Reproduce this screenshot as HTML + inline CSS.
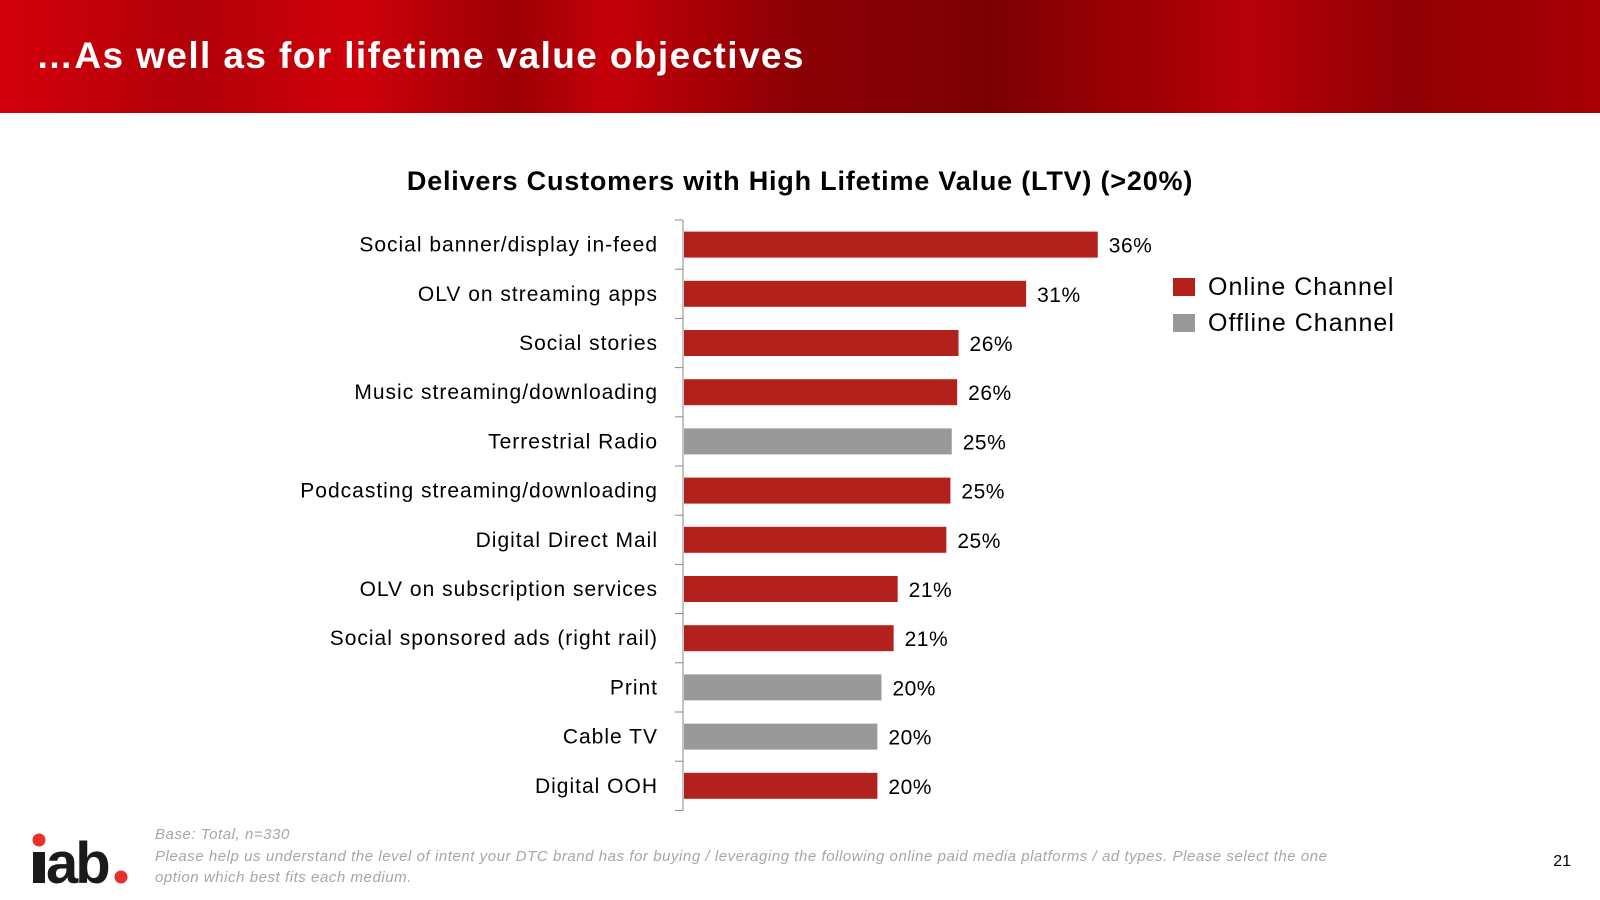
<!DOCTYPE html>
<html><head><meta charset="utf-8"><style>
body{margin:0;width:1600px;height:900px;overflow:hidden;background:#fff;font-family:"Liberation Sans",sans-serif}
#banner{position:absolute;left:0;top:0;width:1600px;height:113px;background:linear-gradient(90deg,#d4000c 0%,#b00008 12%,#d0000a 22%,#9c0006 32%,#c40008 38%,#8a0004 50%,#7c0003 62%,#a00005 72%,#b8000a 78%,#900004 88%,#a80006 100%)}
#title{position:absolute;left:36px;top:35px;color:#fff;font-size:37px;font-weight:bold;letter-spacing:1.4px}
</style></head><body>
<div id="banner"></div>
<div id="title">…As well as for lifetime value objectives</div>
<svg id="chart" width="1600" height="900" style="position:absolute;left:0;top:0">
<text x="800" y="190" text-anchor="middle" font-size="27" font-weight="bold" fill="#000" letter-spacing="0.8">Delivers Customers with High Lifetime Value (LTV) (&gt;20%)</text>
<g id="bars"></g>
<rect x="1173" y="278" width="22" height="18" fill="#b3211d"/>
<text x="1208" y="295" font-size="25" fill="#000" letter-spacing="1">Online Channel</text>
<rect x="1173" y="314" width="22" height="18" fill="#999999"/>
<text x="1208" y="331" font-size="25" fill="#000" letter-spacing="1">Offline Channel</text>
<g>
<circle cx="39" cy="840" r="6.5" fill="#e8302a"/>
<rect x="33" y="852" width="12" height="31" fill="#1a1a1a"/>
<text x="46" y="883" font-size="58" font-weight="bold" fill="#1a1a1a" letter-spacing="-3">ab</text>
<circle cx="121" cy="877" r="6.5" fill="#e8302a"/>
</g>
<g font-size="15" font-style="italic" fill="#a6a6a6" letter-spacing="0.55">
<text x="155" y="839">Base: Total, n=330</text>
<text x="155" y="861">Please help us understand the level of intent your DTC brand has for buying / leveraging the following online paid media platforms / ad types. Please select the one</text>
<text x="155" y="882">option which best fits each medium.</text>
</g>
<text x="1571" y="866" font-size="16" text-anchor="end" fill="#000">21</text>
</svg>
<script>
const categories=["Social banner/display in-feed","OLV on streaming apps","Social stories","Music streaming/downloading","Terrestrial Radio","Podcasting streaming/downloading","Digital Direct Mail","OLV on subscription services","Social sponsored ads (right rail)","Print","Cable TV","Digital OOH"];
const values=[36.3,31.0,26.0,25.9,25.5,25.4,25.1,21.5,21.2,20.3,20.0,20.0];
const valueLabels=["36%","31%","26%","26%","25%","25%","25%","21%","21%","20%","20%","20%"];
const channel=["online","online","online","online","offline","online","online","online","online","offline","offline","online"];
const axisX=683,top0=220,band=49.2;
function x(v){return 607+13.52*v;}
function yc(i){return top0+band*(i+0.5);}
const g=document.getElementById('bars');const NS="http://www.w3.org/2000/svg";
function mk(t,a){const e=document.createElementNS(NS,t);for(const k in a)e.setAttribute(k,a[k]);return e;}
const ax=mk('line',{x1:axisX,y1:top0,x2:axisX,y2:top0+band*categories.length,stroke:'#888','stroke-width':1});


g.appendChild(ax);
for(let i=0;i<=categories.length;i++){const t=mk('line',{x1:axisX-8,x2:axisX,y1:top0+band*i,y2:top0+band*i,stroke:'#888','stroke-width':1});


g.appendChild(t);}
categories.forEach((c,i)=>{
const r=mk('rect',{x:axisX+1,y:yc(i)-13,width:x(values[i])-axisX-1,height:26,fill:channel[i]==='online'?'#b3211d':'#999999'});


g.appendChild(r);
const l=mk('text',{x:658,y:yc(i)+7,'text-anchor':'end','font-size':21,fill:'#000','letter-spacing':1});l.textContent=c;


g.appendChild(l);
const v=mk('text',{x:x(values[i])+11,y:yc(i)+8,'font-size':21,fill:'#000','letter-spacing':0.5});v.textContent=valueLabels[i];


g.appendChild(v);
});
</script>
</body></html>
